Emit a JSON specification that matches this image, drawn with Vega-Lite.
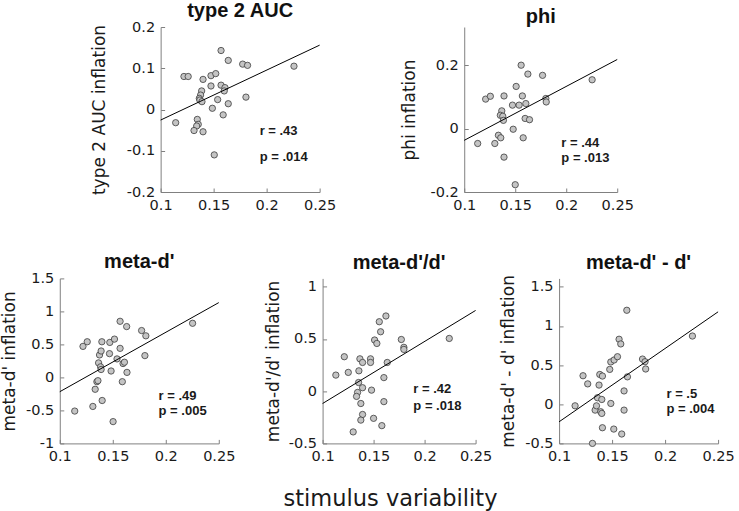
{
  "$schema": "https://vega.github.io/schema/vega-lite/v6.json",
  "padding": {"left": 0.5, "top": 0, "right": 0, "bottom": 1},
  "config": {
    "view": {"stroke": null},
    "font": "DejaVu Sans",
    "axis": {"grid": false, "domainColor": "#808080", "tickColor": "#808080", "domainWidth": 1, "tickWidth": 1, "tickSize": -4, "labelFont": "DejaVu Sans", "labelFontSize": 14.5, "labelColor": "#1a1a1a", "titleFont": "DejaVu Sans", "titleFontSize": 17, "titleFontWeight": "normal", "titleColor": "#1a1a1a", "labelFlush": false, "labelOverlap": false, "labelBound": false, "tickCount": 10},
    "axisX": {"labelPadding": 10},
    "axisY": {"labelPadding": 10},
    "title": {"font": "Liberation Sans", "fontSize": 20, "fontWeight": "bold", "color": "#111111", "anchor": "middle", "frame": "group", "baseline": "alphabetic"}
  },
  "datasets": {
    "auc": [
      {"variability": 0.1142, "inflation": -0.032}, {"variability": 0.122, "inflation": 0.080}, {"variability": 0.126, "inflation": 0.080}, {"variability": 0.140, "inflation": 0.073},
      {"variability": 0.1387, "inflation": 0.045}, {"variability": 0.1377, "inflation": 0.035}, {"variability": 0.1365, "inflation": 0.027}, {"variability": 0.137, "inflation": 0.023},
      {"variability": 0.139, "inflation": 0.019}, {"variability": 0.1346, "inflation": -0.024}, {"variability": 0.1355, "inflation": -0.036}, {"variability": 0.134, "inflation": -0.040},
      {"variability": 0.1315, "inflation": -0.051}, {"variability": 0.140, "inflation": -0.054}, {"variability": 0.1475, "inflation": 0.082}, {"variability": 0.152, "inflation": 0.087},
      {"variability": 0.1475, "inflation": 0.057}, {"variability": 0.1488, "inflation": 0.003}, {"variability": 0.1506, "inflation": -0.110}, {"variability": 0.157, "inflation": 0.143},
      {"variability": 0.157, "inflation": 0.059}, {"variability": 0.1607, "inflation": 0.053}, {"variability": 0.160, "inflation": 0.045}, {"variability": 0.1538, "inflation": 0.024},
      {"variability": 0.159, "inflation": -0.013}, {"variability": 0.1638, "inflation": 0.119}, {"variability": 0.1638, "inflation": 0.014}, {"variability": 0.1774, "inflation": 0.110},
      {"variability": 0.182, "inflation": 0.107}, {"variability": 0.1805, "inflation": 0.030}, {"variability": 0.2258, "inflation": 0.105}
    ],
    "auc_fit": [{"variability": 0.1, "inflation": -0.0256}, {"variability": 0.25, "inflation": 0.156}],
    "auc_txt": [{"variability": 0.1934, "inflation": -0.052, "label": "r = .43"}, {"variability": 0.1934, "inflation": -0.116, "label": "p = .014"}],
    "phi": [
      {"variability": 0.1132, "inflation": -0.047}, {"variability": 0.121, "inflation": 0.093}, {"variability": 0.1256, "inflation": 0.102}, {"variability": 0.139, "inflation": 0.103},
      {"variability": 0.1368, "inflation": 0.056}, {"variability": 0.1354, "inflation": 0.042}, {"variability": 0.1378, "inflation": 0.039}, {"variability": 0.1384, "inflation": 0.026},
      {"variability": 0.1335, "inflation": -0.021}, {"variability": 0.1358, "inflation": -0.029}, {"variability": 0.130, "inflation": -0.047}, {"variability": 0.139, "inflation": -0.090},
      {"variability": 0.1509, "inflation": 0.133}, {"variability": 0.1473, "inflation": 0.074}, {"variability": 0.1538, "inflation": 0.074}, {"variability": 0.148, "inflation": -0.002},
      {"variability": 0.150, "inflation": -0.177}, {"variability": 0.1558, "inflation": 0.200}, {"variability": 0.157, "inflation": 0.103}, {"variability": 0.1604, "inflation": 0.079},
      {"variability": 0.1597, "inflation": 0.032}, {"variability": 0.164, "inflation": 0.028}, {"variability": 0.1578, "inflation": -0.029}, {"variability": 0.1624, "inflation": 0.172},
      {"variability": 0.1768, "inflation": 0.168}, {"variability": 0.180, "inflation": 0.095}, {"variability": 0.1804, "inflation": 0.084}, {"variability": 0.2254, "inflation": 0.154}
    ],
    "phi_fit": [{"variability": 0.1, "inflation": -0.037}, {"variability": 0.25, "inflation": 0.218}],
    "phi_txt": [{"variability": 0.1952, "inflation": -0.044, "label": "r = .44"}, {"variability": 0.1952, "inflation": -0.092, "label": "p = .013"}],
    "md": [
      {"variability": 0.1141, "inflation": -0.51}, {"variability": 0.1219, "inflation": 0.47}, {"variability": 0.1259, "inflation": 0.54}, {"variability": 0.1312, "inflation": -0.44},
      {"variability": 0.1334, "inflation": -0.18}, {"variability": 0.135, "inflation": -0.065}, {"variability": 0.136, "inflation": -0.05}, {"variability": 0.1366, "inflation": 0.22},
      {"variability": 0.1375, "inflation": 0.34}, {"variability": 0.139, "inflation": 0.40}, {"variability": 0.1397, "inflation": 0.54}, {"variability": 0.1385, "inflation": 0.16},
      {"variability": 0.139, "inflation": 0.12}, {"variability": 0.140, "inflation": -0.35}, {"variability": 0.1469, "inflation": 0.36}, {"variability": 0.1472, "inflation": 0.53},
      {"variability": 0.1484, "inflation": 0.097}, {"variability": 0.1516, "inflation": 0.58}, {"variability": 0.1503, "inflation": -0.67}, {"variability": 0.154, "inflation": 0.28},
      {"variability": 0.1569, "inflation": 0.85}, {"variability": 0.1569, "inflation": 0.44}, {"variability": 0.1597, "inflation": 0.21}, {"variability": 0.161, "inflation": 0.23},
      {"variability": 0.159, "inflation": -0.065}, {"variability": 0.1631, "inflation": 0.77}, {"variability": 0.1634, "inflation": 0.076}, {"variability": 0.1772, "inflation": 0.71},
      {"variability": 0.1812, "inflation": 0.63}, {"variability": 0.1803, "inflation": 0.33}, {"variability": 0.2253, "inflation": 0.82}
    ],
    "md_fit": [{"variability": 0.1, "inflation": -0.217}, {"variability": 0.25, "inflation": 1.133}],
    "md_txt": [{"variability": 0.1932, "inflation": -0.28, "label": "r = .49"}, {"variability": 0.1932, "inflation": -0.51, "label": "p = .005"}],
    "ratio": [
      {"variability": 0.113, "inflation": 0.154}, {"variability": 0.1213, "inflation": 0.33}, {"variability": 0.1252, "inflation": 0.18}, {"variability": 0.1356, "inflation": 0.195},
      {"variability": 0.1366, "inflation": 0.31}, {"variability": 0.1392, "inflation": 0.275}, {"variability": 0.1353, "inflation": 0.083}, {"variability": 0.1392, "inflation": 0.033},
      {"variability": 0.1343, "inflation": -0.012}, {"variability": 0.1333, "inflation": -0.05}, {"variability": 0.1375, "inflation": -0.118}, {"variability": 0.1392, "inflation": -0.223},
      {"variability": 0.1375, "inflation": -0.277}, {"variability": 0.130, "inflation": -0.39}, {"variability": 0.147, "inflation": 0.31}, {"variability": 0.147, "inflation": 0.275},
      {"variability": 0.148, "inflation": 0.01}, {"variability": 0.150, "inflation": -0.26}, {"variability": 0.151, "inflation": 0.49}, {"variability": 0.1532, "inflation": 0.457},
      {"variability": 0.1556, "inflation": 0.665}, {"variability": 0.1569, "inflation": 0.569}, {"variability": 0.1601, "inflation": 0.13}, {"variability": 0.1601, "inflation": -0.1},
      {"variability": 0.1581, "inflation": -0.33}, {"variability": 0.1621, "inflation": 0.72}, {"variability": 0.1634, "inflation": 0.275}, {"variability": 0.1772, "inflation": 0.495},
      {"variability": 0.1797, "inflation": 0.42}, {"variability": 0.1797, "inflation": 0.40}, {"variability": 0.2242, "inflation": 0.505}
    ],
    "ratio_fit": [{"variability": 0.1, "inflation": -0.118}, {"variability": 0.25, "inflation": 0.773}],
    "ratio_txt": [{"variability": 0.189, "inflation": 0.02, "label": "r = .42"}, {"variability": 0.189, "inflation": -0.14, "label": "p = .018"}],
    "diff": [
      {"variability": 0.1151, "inflation": -0.02}, {"variability": 0.1226, "inflation": 0.364}, {"variability": 0.127, "inflation": 0.26}, {"variability": 0.1315, "inflation": -0.50},
      {"variability": 0.134, "inflation": -0.075}, {"variability": 0.1353, "inflation": -0.02}, {"variability": 0.1362, "inflation": 0.083}, {"variability": 0.1377, "inflation": 0.245},
      {"variability": 0.1384, "inflation": 0.38}, {"variability": 0.1409, "inflation": 0.36}, {"variability": 0.1393, "inflation": -0.096}, {"variability": 0.1403, "inflation": -0.117},
      {"variability": 0.1403, "inflation": 0.061}, {"variability": 0.1409, "inflation": -0.30}, {"variability": 0.1478, "inflation": 0.445}, {"variability": 0.1488, "inflation": 0.54},
      {"variability": 0.1519, "inflation": 0.565}, {"variability": 0.1488, "inflation": 0.01}, {"variability": 0.1516, "inflation": -0.317}, {"variability": 0.1551, "inflation": 0.607},
      {"variability": 0.1566, "inflation": 0.83}, {"variability": 0.1582, "inflation": 0.77}, {"variability": 0.1591, "inflation": -0.38}, {"variability": 0.1613, "inflation": 0.17},
      {"variability": 0.1613, "inflation": -0.075}, {"variability": 0.1645, "inflation": 0.35}, {"variability": 0.1639, "inflation": 1.20}, {"variability": 0.1787, "inflation": 0.577},
      {"variability": 0.1811, "inflation": 0.543}, {"variability": 0.1817, "inflation": 0.45}, {"variability": 0.2258, "inflation": 0.871}
    ],
    "diff_fit": [{"variability": 0.1, "inflation": -0.224}, {"variability": 0.25, "inflation": 1.18}],
    "diff_txt": [{"variability": 0.2013, "inflation": 0.125, "label": "r = .5"}, {"variability": 0.2013, "inflation": -0.066, "label": "p = .004"}]
  },
  "title": {"text": "stimulus variability", "orient": "bottom", "font": "DejaVu Sans", "fontSize": 22.5, "fontWeight": "normal", "anchor": "middle", "frame": "bounds", "baseline": "alphabetic", "offset": 43.5, "dx": 23, "color": "#1a1a1a"},
  "spacing": 39.4,
  "center": true,
  "vconcat": [
    {
      "spacing": 63.6,
      "hconcat": [
        {
          "width": 159, "height": 165,
          "title": {"text": "type 2 AUC", "offset": -1.85},
          "layer": [
            {"data": {"name": "auc"}, "mark": {"type": "circle", "size": 40, "fill": "#c4c4c4", "stroke": "#3c3c3c", "strokeWidth": 0.8, "opacity": 1},
             "encoding": {
               "x": {"field": "variability", "type": "quantitative", "scale": {"domain": [0.1, 0.25], "nice": false, "zero": false}, "axis": {"title": null, "values": [0.1, 0.15, 0.2, 0.25], "tickCount": 10, "labelExpr": "'' + datum.value", "labelOverlap": false}},
               "y": {"field": "inflation", "type": "quantitative", "scale": {"domain": [-0.2, 0.2], "nice": false, "zero": false}, "axis": {"title": "type 2 AUC inflation", "values": [-0.2, -0.1, 0, 0.1, 0.2], "tickCount": 10, "labelExpr": "'' + datum.value", "labelOverlap": false, "titlePadding": 18}}}},
            {"data": {"name": "auc_fit"}, "mark": {"type": "line", "color": "#000000", "strokeWidth": 1},
             "encoding": {"x": {"field": "variability", "type": "quantitative"}, "y": {"field": "inflation", "type": "quantitative"}}},
            {"data": {"name": "auc_txt"}, "mark": {"type": "text", "align": "left", "baseline": "middle", "font": "Liberation Sans", "fontWeight": "bold", "fontSize": 13, "color": "#1a1a1a"},
             "encoding": {"x": {"field": "variability", "type": "quantitative"}, "y": {"field": "inflation", "type": "quantitative"}, "text": {"field": "label"}}}
          ]
        },
        {
          "width": 153, "height": 165,
          "title": {"text": "phi", "offset": 0},
          "layer": [
            {"data": {"name": "phi"}, "mark": {"type": "circle", "size": 40, "fill": "#c4c4c4", "stroke": "#3c3c3c", "strokeWidth": 0.8, "opacity": 1},
             "encoding": {
               "x": {"field": "variability", "type": "quantitative", "scale": {"domain": [0.1, 0.25], "nice": false, "zero": false}, "axis": {"title": null, "values": [0.1, 0.15, 0.2, 0.25], "tickCount": 10, "labelExpr": "'' + datum.value", "labelOverlap": false}},
               "y": {"field": "inflation", "type": "quantitative", "scale": {"domain": [-0.2, 0.3205], "nice": false, "zero": false}, "axis": {"title": "phi inflation", "values": [-0.2, 0, 0.2], "tickCount": 10, "labelExpr": "'' + datum.value", "labelOverlap": false, "titlePadding": 11}}}},
            {"data": {"name": "phi_fit"}, "mark": {"type": "line", "color": "#000000", "strokeWidth": 1},
             "encoding": {"x": {"field": "variability", "type": "quantitative"}, "y": {"field": "inflation", "type": "quantitative"}}},
            {"data": {"name": "phi_txt"}, "mark": {"type": "text", "align": "left", "baseline": "middle", "font": "Liberation Sans", "fontWeight": "bold", "fontSize": 13, "color": "#1a1a1a"},
             "encoding": {"x": {"field": "variability", "type": "quantitative"}, "y": {"field": "inflation", "type": "quantitative"}, "text": {"field": "label"}}}
          ]
        }
      ]
    },
    {
      "spacing": 28.8,
      "hconcat": [
        {
          "width": 159, "height": 165,
          "title": {"text": "meta-d'", "offset": -1.85},
          "layer": [
            {"data": {"name": "md"}, "mark": {"type": "circle", "size": 40, "fill": "#c4c4c4", "stroke": "#3c3c3c", "strokeWidth": 0.8, "opacity": 1},
             "encoding": {
               "x": {"field": "variability", "type": "quantitative", "scale": {"domain": [0.1, 0.25], "nice": false, "zero": false}, "axis": {"title": null, "values": [0.1, 0.15, 0.2, 0.25], "tickCount": 10, "labelExpr": "'' + datum.value", "labelOverlap": false}},
               "y": {"field": "inflation", "type": "quantitative", "scale": {"domain": [-1, 1.5], "nice": false, "zero": false}, "axis": {"title": "meta-d' inflation", "values": [-1, -0.5, 0, 0.5, 1, 1.5], "tickCount": 10, "labelExpr": "'' + datum.value", "labelOverlap": false, "titlePadding": 6.7}}}},
            {"data": {"name": "md_fit"}, "mark": {"type": "line", "color": "#000000", "strokeWidth": 1},
             "encoding": {"x": {"field": "variability", "type": "quantitative"}, "y": {"field": "inflation", "type": "quantitative"}}},
            {"data": {"name": "md_txt"}, "mark": {"type": "text", "align": "left", "baseline": "middle", "font": "Liberation Sans", "fontWeight": "bold", "fontSize": 13, "color": "#1a1a1a"},
             "encoding": {"x": {"field": "variability", "type": "quantitative"}, "y": {"field": "inflation", "type": "quantitative"}, "text": {"field": "label"}}}
          ]
        },
        {
          "spacing": 6.5,
          "hconcat": [
            {
              "width": 153, "height": 165,
              "title": {"text": "meta-d'/d'", "offset": 5.1},
              "layer": [
                {"data": {"name": "ratio"}, "mark": {"type": "circle", "size": 40, "fill": "#c4c4c4", "stroke": "#3c3c3c", "strokeWidth": 0.8, "opacity": 1},
                 "encoding": {
                   "x": {"field": "variability", "type": "quantitative", "scale": {"domain": [0.1, 0.25], "nice": false, "zero": false}, "axis": {"title": null, "values": [0.1, 0.15, 0.2, 0.25], "tickCount": 10, "labelExpr": "'' + datum.value", "labelOverlap": false}},
                   "y": {"field": "inflation", "type": "quantitative", "scale": {"domain": [-0.5, 1.08], "nice": false, "zero": false}, "axis": {"title": "meta-d'/d' inflation", "values": [-0.5, 0, 0.5, 1], "tickCount": 10, "labelExpr": "'' + datum.value", "labelOverlap": false, "titlePadding": 5.7}}}},
                {"data": {"name": "ratio_fit"}, "mark": {"type": "line", "color": "#000000", "strokeWidth": 1},
                 "encoding": {"x": {"field": "variability", "type": "quantitative"}, "y": {"field": "inflation", "type": "quantitative"}}},
                {"data": {"name": "ratio_txt"}, "mark": {"type": "text", "align": "left", "baseline": "middle", "font": "Liberation Sans", "fontWeight": "bold", "fontSize": 13, "color": "#1a1a1a"},
                 "encoding": {"x": {"field": "variability", "type": "quantitative"}, "y": {"field": "inflation", "type": "quantitative"}, "text": {"field": "label"}}}
              ]
            },
            {
              "width": 159, "height": 165,
              "title": {"text": "meta-d' - d'", "offset": 1.2},
              "layer": [
                {"data": {"name": "diff"}, "mark": {"type": "circle", "size": 40, "fill": "#c4c4c4", "stroke": "#3c3c3c", "strokeWidth": 0.8, "opacity": 1},
                 "encoding": {
                   "x": {"field": "variability", "type": "quantitative", "scale": {"domain": [0.1, 0.25], "nice": false, "zero": false}, "axis": {"title": null, "values": [0.1, 0.15, 0.2, 0.25], "tickCount": 10, "labelExpr": "'' + datum.value", "labelOverlap": false}},
                   "y": {"field": "inflation", "type": "quantitative", "scale": {"domain": [-0.5, 1.607], "nice": false, "zero": false}, "axis": {"title": "meta-d' - d' inflation", "values": [-0.5, 0, 0.5, 1, 1.5], "tickCount": 10, "labelExpr": "'' + datum.value", "labelOverlap": false, "titlePadding": 7}}}},
                {"data": {"name": "diff_fit"}, "mark": {"type": "line", "color": "#000000", "strokeWidth": 1},
                 "encoding": {"x": {"field": "variability", "type": "quantitative"}, "y": {"field": "inflation", "type": "quantitative"}}},
                {"data": {"name": "diff_txt"}, "mark": {"type": "text", "align": "left", "baseline": "middle", "font": "Liberation Sans", "fontWeight": "bold", "fontSize": 13, "color": "#1a1a1a"},
                 "encoding": {"x": {"field": "variability", "type": "quantitative"}, "y": {"field": "inflation", "type": "quantitative"}, "text": {"field": "label"}}}
              ]
            }
          ]
        }
      ]
    }
  ]
}
